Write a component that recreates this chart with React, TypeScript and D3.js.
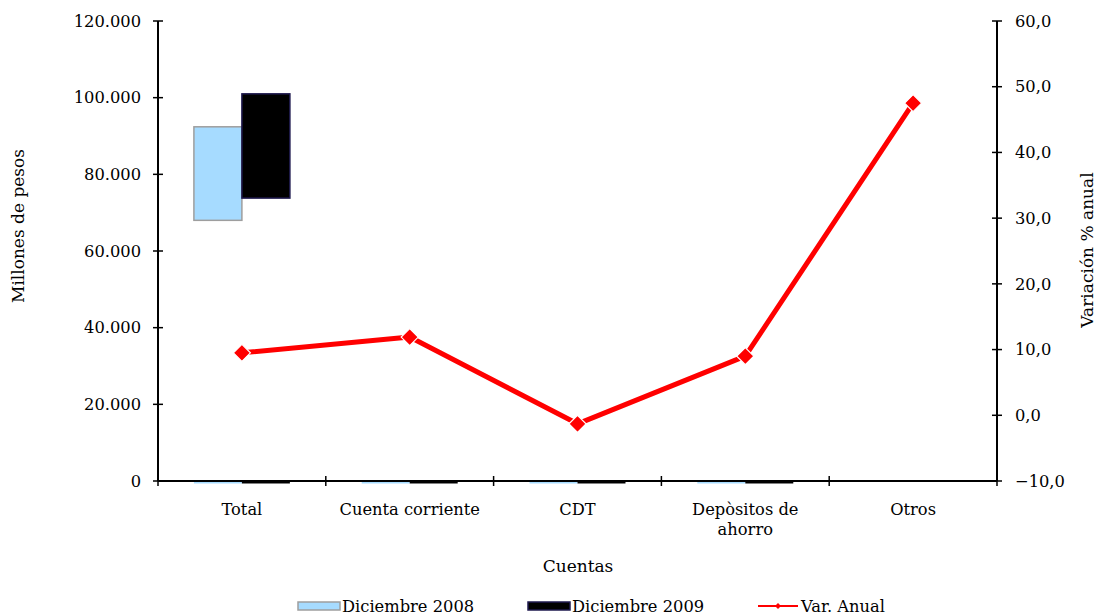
import React from "react";
import * as d3 from "d3";

const categories = ["Total", "Cuenta corriente", "CDT", "Depòsitos de\nahorro", "Otros"];
const dic2008 = [-650, -650, -650, -650, 0];
const dic2009 = [-650, -650, -650, -650, 0];
const floating2008: [string, number, number][] = [["Total", 68000, 92400]];
const floating2009: [string, number, number][] = [["Total", 73800, 101000]];
const varAnual = [9.5, 11.9, -1.3, 9.0, 47.5];
const leftTicks = [0, 20000, 40000, 60000, 80000, 100000, 120000];
const rightTicks = [-10, 0, 10, 20, 30, 40, 50, 60];

const W = 1097, H = 615;
const M = { left: 158, right: 997, top: 21, bottom: 481 };
const FONT = "DejaVu Serif";
const FS = 16.3;

export default function App() {
  const x = d3.scaleBand<string>().domain(categories).range([M.left, M.right]).paddingInner(0).paddingOuter(0);
  const yL = d3.scaleLinear().domain([0, 120000]).range([M.bottom, M.top]);
  const yR = d3.scaleLinear().domain([-10, 60]).range([M.bottom, M.top]);
  const bw = x.bandwidth();
  const barW = bw * 0.286;
  const fmtL = (v: number) => d3.format(",")(v).replace(/,/g, ".");
  const fmtR = (v: number) => d3.format(".1f")(v).replace(".", ",");
  const cx = (c: string) => (x(c) as number) + bw / 2;
  const line = d3.line<number>().x((_, i) => cx(categories[i])).y((d) => yR(d));
  const diamondPath = (s: number) => `M0,${-s}L${s},0L0,${s}L${-s},0Z`;
  const blue = "#A6DBFF";
  const blueStroke = "#9E9E9E";
  const black = "#000000";
  const blackStroke = "#1F1A4F";

  const rect = (y0: number, y1: number, xPos: number, fill: string, stroke: string, key: string, strokeOn = true) => {
    const top = Math.min(yL(y0), yL(y1));
    const h = Math.abs(yL(y0) - yL(y1));
    return <rect key={key} x={xPos} y={top} width={barW} height={h} fill={fill} stroke={strokeOn ? stroke : "none"} strokeWidth={1.5} />;
  };

  return (
    <svg width={W} height={H} style={{ position: "absolute", left: 0, top: 0, background: "#fff" }} fontFamily={FONT}>
      {categories.map((c, i) => dic2008[i] !== 0 ? rect(0, dic2008[i], cx(c) - barW, blue, blueStroke, "b8" + i, false) : null)}
      {categories.map((c, i) => dic2009[i] !== 0 ? rect(0, dic2009[i], cx(c), black, blackStroke, "b9" + i, false) : null)}
      {floating2008.map(([c, a, b], i) => rect(a, b, cx(c) - barW, blue, blueStroke, "f8" + i))}
      {floating2009.map(([c, a, b], i) => rect(a, b, cx(c), black, blackStroke, "f9" + i))}

      <line x1={M.left} x2={M.left} y1={M.top} y2={M.bottom} stroke="#000" strokeWidth={2} />
      {leftTicks.map((t) => (
        <g key={"l" + t}>
          <line x1={M.left - 5} x2={M.left + 5} y1={yL(t)} y2={yL(t)} stroke="#000" strokeWidth={1.5} />
          <text x={M.left - 17} y={yL(t)} dy="0.35em" textAnchor="end" fontSize={FS} fill="#000">{fmtL(t)}</text>
        </g>
      ))}
      <line x1={M.right} x2={M.right} y1={M.top} y2={M.bottom} stroke="#000" strokeWidth={2} />
      {rightTicks.map((t) => (
        <g key={"r" + t}>
          <line x1={M.right - 5} x2={M.right + 5} y1={yR(t)} y2={yR(t)} stroke="#000" strokeWidth={1.5} />
          <text x={M.right + 18} y={yR(t)} dy="0.35em" textAnchor="start" fontSize={FS} fill="#000">{fmtR(t)}</text>
        </g>
      ))}
      <line x1={M.left} x2={M.right} y1={M.bottom} y2={M.bottom} stroke="#000" strokeWidth={2} />
      {categories.map((c, i) => (
        <line key={"xt" + i} x1={x(c) as number} x2={x(c) as number} y1={M.bottom - 5} y2={M.bottom + 5} stroke="#000" strokeWidth={1.5} />
      ))}
      <line x1={M.right} x2={M.right} y1={M.bottom - 5} y2={M.bottom + 5} stroke="#000" strokeWidth={1.5} />
      {categories.map((c) => (
        <text key={"xl" + c} x={cx(c)} y={M.bottom + 34} textAnchor="middle" fontSize={FS} fill="#000">
          {c.split("\n").map((s, j) => (
            <tspan key={j} x={cx(c)} dy={j === 0 ? 0 : 20}>{s}</tspan>
          ))}
        </text>
      ))}

      <path d={line(varAnual) as string} fill="none" stroke="#FF0000" strokeWidth={5} strokeLinejoin="round" />
      {varAnual.map((v, i) => (
        <path key={"m" + i} d={diamondPath(8.5)} transform={`translate(${cx(categories[i])},${yR(v)})`} fill="#FF0000" stroke="#fff" strokeWidth={1.2} />
      ))}

      <text x={578} y={572} textAnchor="middle" fontSize={17} fill="#000">Cuentas</text>
      <text transform="translate(24,226) rotate(-90)" textAnchor="middle" fontSize={17} fill="#000">Millones de pesos</text>
      <text transform="translate(1093,250) rotate(-90)" textAnchor="middle" fontSize={17} fill="#000">Variación % anual</text>

      <rect x={298} y={602} width={42} height={8} fill={blue} stroke={blueStroke} strokeWidth={1.5} />
      <text x={342} y={612} fontSize={FS} fill="#000">Diciembre 2008</text>
      <rect x={528} y={602} width={42} height={8} fill={black} stroke={blackStroke} strokeWidth={1.5} />
      <text x={572} y={612} fontSize={FS} fill="#000">Diciembre 2009</text>
      <line x1={758} x2={798} y1={606} y2={606} stroke="#FF0000" strokeWidth={2} />
      <path d={diamondPath(3)} transform="translate(778,606)" fill="#FF0000" />
      <text x={801} y={612} fontSize={FS} fill="#000">Var. Anual</text>
    </svg>
  );
}
